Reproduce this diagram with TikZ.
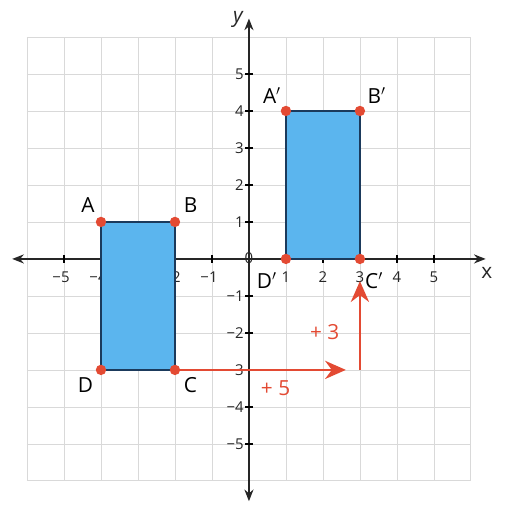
\documentclass[tikz,border=0pt]{standalone}
\usepackage{fontspec}
\setmainfont{Open Sans}
\usepackage{xcolor}
\usetikzlibrary{arrows.meta}
\definecolor{rectblue}{HTML}{5BB5EE}
\definecolor{edgeblue}{HTML}{1B3A5C}
\definecolor{shiftred}{HTML}{E34A33}

\begin{document}
\begin{tikzpicture}[line width=1.1pt,
  axis/.style={{Stealth[length=9pt,width=7pt]}-{Stealth[length=9pt,width=7pt]}, black!85},
  figure/.style={fill=rectblue, draw=edgeblue, line width=1.4pt, line join=round},
  vertex/.style={circle, fill=shiftred, inner sep=0pt, minimum size=8pt},
  ptlabel/.style={font=\fontsize{16}{18}\selectfont, inner sep=0pt},
  ticklabel/.style={font=\fontsize{11.5}{13}\selectfont, inner sep=0pt, text=black!85},
  shiftarrow/.style={-{Stealth[length=16pt,width=14pt]}, draw=shiftred, line width=1.8pt},
  shiftlabel/.style={text=shiftred, font=\fontsize{16}{18}\selectfont, inner sep=0pt}]
  \useasboundingbox (-6.73,-6.68) rectangle (7.03,7.0);

  % grid and axes
  \draw[gray!30, line width=0.6pt] (-6,-6) grid (6,6);
  \coordinate (xl) at (-6.4,0);
  \coordinate (xr) at (6.4,0);
  \coordinate (yb) at (0,-6.55);
  \coordinate (yt) at (0,6.5);
  \draw[axis] (xl) -- (xr);
  \draw[axis] (yb) -- (yt);
  \node[ticklabel, font=\fontsize{16}{18}\selectfont] (xname) at (6.43,-0.38) {x};
  \node[ticklabel, font=\fontsize{16}{18}\selectfont\itshape] (yname) at (-0.3,6.48) {y};
  \node[ticklabel] (zero) at (0,0.03) {0};
  \foreach \n in {1,...,5} {
    \draw (\n,0.1) -- (\n,-0.1) (-\n,0.1) -- (-\n,-0.1);
    \draw (-0.1,\n) -- (0.1,\n) (-0.1,-\n) -- (0.1,-\n);
    \node[ticklabel] (xp\n) at (\n,-0.5) {\n};
    \node[ticklabel] (xm\n) at (-\n-0.08,-0.5) {−\n};
    \node[ticklabel, anchor=east] (yp\n) at (-0.12,\n) {\n};
    \node[ticklabel, anchor=east] (ym\n) at (-0.12,-\n) {−\n};
  }

  % original rectangle
  \coordinate (A) at (-4,1);
  \coordinate (B) at (-2,1);
  \coordinate (C) at (-2,-3);
  \coordinate (D) at (-4,-3);
  \draw[figure] (A) -- (B) -- (C) -- (D) -- cycle;

  % image rectangle
  \coordinate (A1) at (1,4);
  \coordinate (B1) at (3,4);
  \coordinate (C1) at (3,0);
  \coordinate (D1) at (1,0);
  \draw[figure] (A1) -- (B1) -- (C1) -- (D1) -- cycle;

  % translation
  \coordinate (hend) at (2.62,-3);
  \coordinate (vstart) at (3,-3);
  \coordinate (vend) at (3,-0.6);
  \draw[shiftarrow] (C) -- (hend);
  \draw[shiftarrow] (vstart) -- (vend);
  \node[shiftlabel] (five) at (0.72,-3.5) {+ 5};
  \node[shiftlabel] (three) at (2.05,-1.97) {+ 3};

  % vertices
  \foreach \p in {A,B,C,D,A1,B1,C1,D1}
    \node[vertex] (dot\p) at (\p) {};
  \node[ptlabel] (lA) at (-4.35,1.46) {A};
  \node[ptlabel] (lB) at (-1.58,1.46) {B};
  \node[ptlabel] (lC) at (-1.58,-3.42) {C};
  \node[ptlabel] (lD) at (-4.42,-3.42) {D};
  \node[ptlabel] (lA1) at (0.62,4.42) {A$'$};
  \node[ptlabel] (lB1) at (3.45,4.42) {B$'$};
  \node[ptlabel] (lC1) at (3.38,-0.58) {C$'$};
  \node[ptlabel] (lD1) at (0.48,-0.58) {D$'$};
\end{tikzpicture}
\end{document}
